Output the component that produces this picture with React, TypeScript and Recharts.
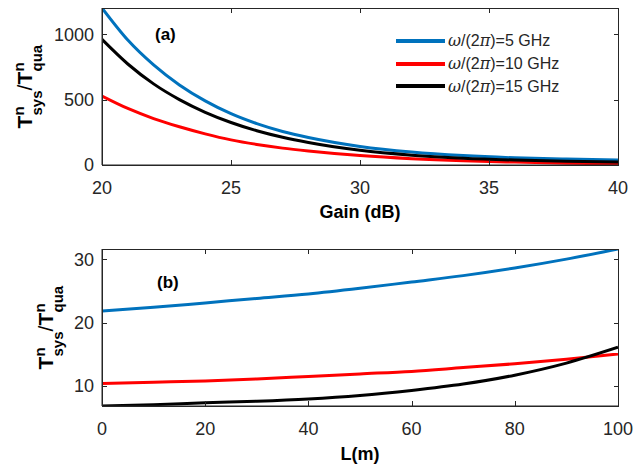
import React from "react";
import { LineChart, Line, XAxis, YAxis } from "recharts";

// panel (a): Tsys/Tqua against amplifier gain
const gain = [20, 21, 22, 23, 24, 25, 26, 27, 28, 30, 32, 34, 36, 38, 40];
const gain5 = [1200, 955, 765, 612, 490, 392, 316, 256, 210, 142, 99, 72, 55, 45, 38];
const gain10 = [527, 432, 355, 292, 238, 192, 157, 129, 107, 72, 48, 32, 22, 14, 8];
const gain15 = [960, 772, 620, 500, 403, 325, 262, 212, 172, 112, 75, 52, 38, 29, 23];

// panel (b): Tsys/Tqua against cable length
const length = [0, 10, 20, 30, 40, 50, 60, 70, 80, 90, 100];
const len5 = [21.8, 22.4, 23.1, 23.8, 24.5, 25.4, 26.4, 27.4, 28.6, 30.0, 31.6];
const len10 = [10.4, 10.6, 10.8, 11.1, 11.5, 11.9, 12.3, 12.9, 13.5, 14.2, 15.05];
const len15 = [6.84, 7.05, 7.36, 7.6, 7.95, 8.5, 9.3, 10.3, 11.7, 13.6, 16.1];

const gainTicks = [20, 25, 30, 35, 40];
const gainYTicks = [0, 500, 1000];
const lenTicks = [0, 20, 40, 60, 80, 100];
const lenYTicks = [10, 20, 30];

const names = ["ω/(2π)=5 GHz", "ω/(2π)=10 GHz", "ω/(2π)=15 GHz"];
const colors = ["#0072BD", "#FF0000", "#000000"];

const gainRows = gain.map((g, i) => ({ g, s5: gain5[i], s10: gain10[i], s15: gain15[i] }));
const lenRows = length.map((l, i) => ({ l, s5: len5[i], s10: len10[i], s15: len15[i] }));

const FONT = "'Liberation Sans', Arial, Helvetica, sans-serif";
const AX = "#262626";
const tickStyle = { fontSize: 18, fill: AX, fontFamily: FONT };
const lineStyle = { stroke: AX, strokeWidth: 1 };
const W = 634;
const TICK = 5;

// plot boxes (page pixels); chart margins are derived from these
const boxA = { left: 102, top: 8, right: 618, bottom: 165 };
const boxB = { left: 102, top: 249, right: 618, bottom: 406 };

// MATLAB style closed box with inward ticks, as plain HTML boxes over the chart
function Frame({ box, xDomain, yDomain, xTicks, yTicks }: any) {
  const w = box.right - box.left;
  const h = box.bottom - box.top;
  const px = (v: number) => Math.round(((v - xDomain[0]) / (xDomain[1] - xDomain[0])) * w);
  const py = (v: number) => Math.round(h - ((v - yDomain[0]) / (yDomain[1] - yDomain[0])) * h);
  const bar = (key: string, left: number, top: number, width: number, height: number) => (
    <div key={key} style={{ position: "absolute", left, top, width, height, background: AX }} />
  );
  return (
    <div style={{ position: "absolute", left: box.left, top: box.top, width: w + 1, height: h + 1, pointerEvents: "none" }}>
      {bar("t", 0, 0, w + 1, 1)}
      {bar("b", 0, h, w + 1, 1)}
      {bar("l", 0, 0, 1, h + 1)}
      {bar("r", w, 0, 1, h + 1)}
      {xTicks.map((t: number) => [
        bar(`xb${t}`, Math.min(px(t), w), h - TICK, 1, TICK),
        bar(`xt${t}`, Math.min(px(t), w), 0, 1, TICK),
      ])}
      {yTicks.map((t: number) => [
        bar(`yl${t}`, 0, py(t), TICK, 1),
        bar(`yr${t}`, w - TICK + 1, py(t), TICK, 1),
      ])}
    </div>
  );
}

function GreekName({ text }: { text: string }) {
  return (
    <>
      {text.split("").map((c, i) =>
        c === "ω" || c === "π" ? (
          <i key={i} style={{ fontFamily: "'DejaVu Serif', serif" }}>{c}</i>
        ) : (
          <span key={i}>{c}</span>
        )
      )}
    </>
  );
}

function LegendBox() {
  return (
    <div style={{ position: "absolute", left: 396, top: 29.5, fontFamily: FONT, fontSize: 16, color: AX }}>
      {names.map((n, i) => (
        <div key={n} style={{ display: "flex", alignItems: "center", height: 22.7 }}>
          <div style={{ width: 49, height: 4, background: colors[i], marginRight: 3 }} />
          <span style={{ whiteSpace: "nowrap" }}>
            <GreekName text={n} />
          </span>
        </div>
      ))}
    </div>
  );
}

function YLabel({ x, y }: { x: number; y: number }) {
  return (
    <g transform={`translate(${x},${y}) rotate(-90)`} fontFamily={FONT} fill="#000">
      <text x={-42} y={0} fontSize={21} fontWeight="bold">T</text>
      <text x={-29} y={-8} fontSize={15} fontWeight="bold">n</text>
      <text x={-29} y={10} fontSize={15} fontWeight="bold">sys</text>
      <text x={-4} y={0} fontSize={21}>/</text>
      <text x={2} y={0} fontSize={21} fontWeight="bold">T</text>
      <text x={15} y={-8} fontSize={15} fontWeight="bold">n</text>
      <text x={15} y={10} fontSize={15} fontWeight="bold">qua</text>
    </g>
  );
}

export default function App() {
  const series = ["s5", "s10", "s15"];
  const hA = 225;
  const hB = 470;
  return (
    <div style={{ position: "absolute", left: 0, top: 0, width: W, height: 470, background: "#fff" }}>
      {/* panel (a) */}
      <div style={{ position: "absolute", left: 0, top: 0 }}>
        <LineChart width={W} height={hA} data={gainRows} margin={{ top: boxA.top, right: W - boxA.right, bottom: 0, left: 0 }}>
          <XAxis
            dataKey="g"
            type="number"
            domain={[20, 40]}
            ticks={gainTicks}
            allowDataOverflow
            height={hA - boxA.bottom}
            tickSize={0}
            tickMargin={16}
            tick={tickStyle}
            tickLine={false}
            axisLine={lineStyle}
            label={{ value: "Gain (dB)", position: "insideBottom", offset: 7, fill: "#000", fontSize: 18, fontWeight: "bold", fontFamily: FONT }}
          />
          <YAxis
            type="number"
            domain={[0, 1200]}
            ticks={gainYTicks}
            allowDataOverflow
            width={boxA.left}
            tickSize={0}
            tickMargin={8}
            tick={tickStyle}
            tickLine={false}
            axisLine={lineStyle}
          />
          {series.map((k, i) => (
            <Line key={k} dataKey={k} name={names[i]} type="monotone" stroke={colors[i]} strokeWidth={3} dot={false} isAnimationActive={false} />
          ))}
        </LineChart>
      </div>

      {/* panel (b) */}
      <div style={{ position: "absolute", left: 0, top: 0 }}>
        <LineChart width={W} height={hB} data={lenRows} margin={{ top: boxB.top, right: W - boxB.right, bottom: 0, left: 0 }}>
          <XAxis
            dataKey="l"
            type="number"
            domain={[0, 100]}
            ticks={lenTicks}
            allowDataOverflow
            height={hB - boxB.bottom}
            tickSize={0}
            tickMargin={16}
            tick={tickStyle}
            tickLine={false}
            axisLine={lineStyle}
            label={{ value: "L(m)", position: "insideBottom", offset: 10, fill: "#000", fontSize: 18, fontWeight: "bold", fontFamily: FONT }}
          />
          <YAxis
            type="number"
            domain={[6.84, 31.6]}
            ticks={lenYTicks}
            allowDataOverflow
            width={boxB.left}
            tickSize={0}
            tickMargin={8}
            tick={tickStyle}
            tickLine={false}
            axisLine={lineStyle}
          />
          {series.map((k, i) => (
            <Line key={k} dataKey={k} name={names[i]} type="monotone" stroke={colors[i]} strokeWidth={3} dot={false} isAnimationActive={false} />
          ))}
        </LineChart>
      </div>

      <Frame box={boxA} xDomain={[20, 40]} yDomain={[0, 1200]} xTicks={gainTicks} yTicks={gainYTicks} />
      <Frame box={boxB} xDomain={[0, 100]} yDomain={[6.84, 31.6]} xTicks={lenTicks} yTicks={lenYTicks} />

      <LegendBox />

      {/* axis titles and panel tags */}
      <svg width={W} height={470} style={{ position: "absolute", left: 0, top: 0, pointerEvents: "none" }}>
        <YLabel x={32} y={86.5} />
        <YLabel x={53} y={327.5} />
        <text x={155} y={40} fontSize={17} fontWeight="bold" fontFamily={FONT} fill="#000">(a)</text>
        <text x={157} y={288} fontSize={17} fontWeight="bold" fontFamily={FONT} fill="#000">(b)</text>
      </svg>
    </div>
  );
}
